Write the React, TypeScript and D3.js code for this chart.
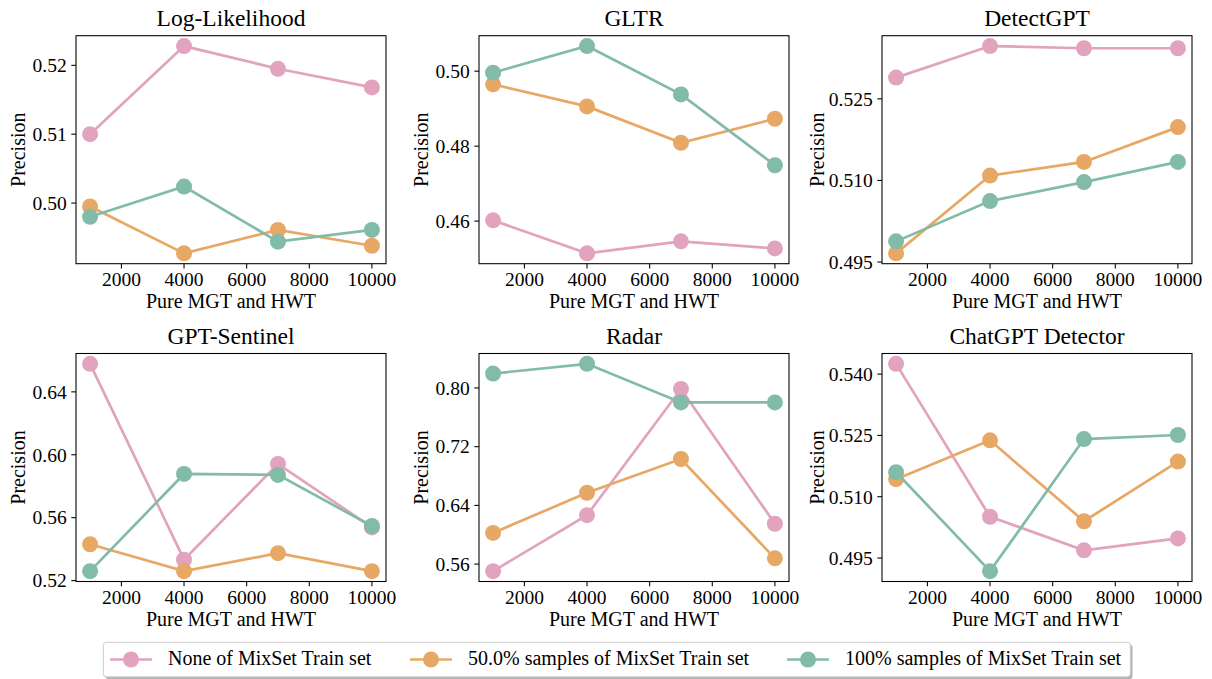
import React from "react";
import * as d3 from "d3";

const xValues = [1000, 4000, 7000, 10000];
const xTicks = [2000, 4000, 6000, 8000, 10000];
const seriesNames = [
  "None of MixSet Train set",
  "50.0% samples of MixSet Train set",
  "100% samples of MixSet Train set",
];
const seriesColors = ["#E2A3BF", "#E8A865", "#82BBA7"];
const titles = ["Log-Likelihood", "GLTR", "DetectGPT", "GPT-Sentinel", "Radar", "ChatGPT Detector"];

const llNone = [0.51, 0.5228, 0.5195, 0.5168];
const llHalf = [0.4995, 0.4927, 0.4961, 0.4938];
const llFull = [0.498, 0.5024, 0.4944, 0.4961];
const gltrNone = [0.4602, 0.4514, 0.4546, 0.4527];
const gltrHalf = [0.4965, 0.4906, 0.4809, 0.4873];
const gltrFull = [0.4996, 0.5067, 0.4938, 0.4749];
const dgNone = [0.5289, 0.5347, 0.5343, 0.5343];
const dgHalf = [0.4966, 0.5109, 0.5134, 0.5198];
const dgFull = [0.4988, 0.5062, 0.5097, 0.5134];
const gsNone = [0.6578, 0.5333, 0.5942, 0.5538];
const gsHalf = [0.5431, 0.526, 0.5374, 0.526];
const gsFull = [0.526, 0.5878, 0.5872, 0.5547];
const rdNone = [0.5504, 0.6267, 0.7986, 0.615];
const rdHalf = [0.6025, 0.6572, 0.7032, 0.5678];
const rdFull = [0.8196, 0.8328, 0.7803, 0.7803];
const cgNone = [0.5425, 0.5051, 0.4969, 0.4998];
const cgHalf = [0.5143, 0.5238, 0.504, 0.5186];
const cgFull = [0.516, 0.4918, 0.5241, 0.5251];

const llTicks = ["0.50", "0.51", "0.52"];
const gltrTicks = ["0.46", "0.48", "0.50"];
const dgTicks = ["0.495", "0.510", "0.525"];
const gsTicks = ["0.52", "0.56", "0.60", "0.64"];
const rdTicks = ["0.56", "0.64", "0.72", "0.80"];
const cgTicks = ["0.495", "0.510", "0.525", "0.540"];

const panelSeries = [
  [llNone, llHalf, llFull],
  [gltrNone, gltrHalf, gltrFull],
  [dgNone, dgHalf, dgFull],
  [gsNone, gsHalf, gsFull],
  [rdNone, rdHalf, rdFull],
  [cgNone, cgHalf, cgFull],
];
const panelTicks = [llTicks, gltrTicks, dgTicks, gsTicks, rdTicks, cgTicks];

const FONT = "Liberation Serif, Times New Roman, Times, serif";
const colLeft = [76, 479, 882];
const rowTop = [35.7, 353.5];
const W = 310;
const H = 228;

function Panel({ idx }: { idx: number }) {
  const left = colLeft[idx % 3];
  const top = rowTop[Math.floor(idx / 3)];
  const series = panelSeries[idx];
  const all = series.flat();
  const [mn, mx] = d3.extent(all) as [number, number];
  const pad = (mx - mn) * 0.05;
  const xPad = (xValues[xValues.length - 1] - xValues[0]) * 0.05;
  const x = d3
    .scaleLinear()
    .domain([xValues[0] - xPad, xValues[xValues.length - 1] + xPad])
    .range([left, left + W]);
  const y = d3.scaleLinear().domain([mn - pad, mx + pad]).range([top + H, top]);
  const line = d3
    .line<number>()
    .x((_, i) => x(xValues[i]))
    .y((d) => y(d));
  const tickLen = 4.7;
  const maxLen = d3.max(panelTicks[idx], (t) => t.length) || 4;
  const ylabOffset = 51 + (maxLen - 4) * 7.5;
  return (
    <g>
      <text x={left + W / 2} y={top - 10} textAnchor="middle" fontSize={23.5}>
        {titles[idx]}
      </text>
      {series.map((s, si) => (
        <g key={si}>
          <path d={line(s) || ""} fill="none" stroke={seriesColors[si]} strokeWidth={2.7} />
          {s.map((v, i) => (
            <circle key={i} cx={x(xValues[i])} cy={y(v)} r={8} fill={seriesColors[si]} />
          ))}
        </g>
      ))}
      <rect x={left} y={top} width={W} height={H} fill="none" stroke="#000" strokeWidth={1.07} />
      {xTicks.map((t) => (
        <g key={t}>
          <line x1={x(t)} x2={x(t)} y1={top + H} y2={top + H + tickLen} stroke="#000" strokeWidth={1.07} />
          <text x={x(t)} y={top + H + 22.7} textAnchor="middle" fontSize={19.5}>
            {t}
          </text>
        </g>
      ))}
      {panelTicks[idx].map((t) => (
        <g key={t}>
          <line x1={left - tickLen} x2={left} y1={y(+t)} y2={y(+t)} stroke="#000" strokeWidth={1.07} />
          <text x={left - 9.3} y={y(+t)} dy="0.35em" textAnchor="end" fontSize={19.5}>
            {t}
          </text>
        </g>
      ))}
      <text x={left + W / 2} y={top + H + 44.5} textAnchor="middle" fontSize={20}>
        Pure MGT and HWT
      </text>
      <text
        transform={`translate(${left - ylabOffset},${top + H / 2}) rotate(-90)`}
        textAnchor="middle"
        fontSize={20}
      >
        Precision
      </text>
    </g>
  );
}

const legendLineX = [110, 410, 787];

export default function App() {
  return (
    <svg
      width={1212}
      height={679}
      style={{ position: "absolute", left: 0, top: 0, background: "#fff", fontFamily: FONT }}
    >
      <rect width={1212} height={679} fill="#fff" />
      {titles.map((_, i) => (
        <Panel key={i} idx={i} />
      ))}
      <g>
        <rect x={105.5} y={644.5} width={1027} height={34.5} rx={3} fill="#000" opacity={0.3} />
        <rect x={103.3} y={642.3} width={1027} height={34.5} rx={3} fill="#fff" stroke="#cccccc" strokeWidth={1} />
        {seriesNames.map((n, i) => (
          <g key={n}>
            <line
              x1={legendLineX[i]}
              x2={legendLineX[i] + 42}
              y1={659.5}
              y2={659.5}
              stroke={seriesColors[i]}
              strokeWidth={2.7}
            />
            <circle cx={legendLineX[i] + 21} cy={659.5} r={8} fill={seriesColors[i]} />
            <text x={legendLineX[i] + 58} y={664.5} fontSize={20}>
              {n}
            </text>
          </g>
        ))}
      </g>
    </svg>
  );
}
